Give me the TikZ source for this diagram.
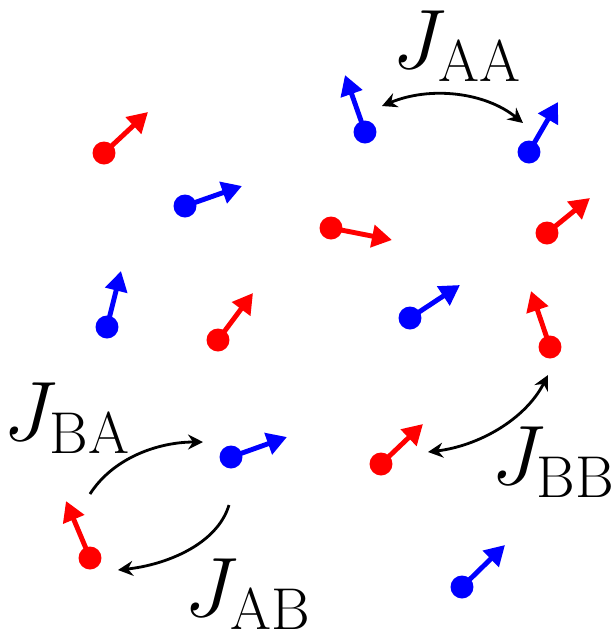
\RequirePackage{fix-cm}
\documentclass[tikz,border=0pt]{standalone}
\usepackage{tikz}
\usepackage{xcolor}
\usetikzlibrary{arrows.meta}
\newcommand{\FJ}{\fontsize{48}{56}\selectfont}

\begin{document}
\begin{tikzpicture}[x=0.02cm,y=-0.02cm]
\tikzstyle{upspin}=[circle,fill=red,inner sep=0pt,minimum size=0.46cm]
\tikzstyle{dnspin}=[circle,fill=blue,inner sep=0pt,minimum size=0.46cm]
\tikzstyle{spinr}=[red,line width=2.8pt,-{Triangle[length=0.4cm,width=0.44cm]}]
\tikzstyle{spinb}=[blue,line width=2.8pt,-{Triangle[length=0.4cm,width=0.44cm]}]
\tikzstyle{coupling}=[black,line width=1.6pt,-{Stealth[length=0.3cm,width=0.3cm,inset=0.1cm]}]
\tikzstyle{coupling2}=[black,line width=1.6pt,{Stealth[length=0.3cm,width=0.3cm,inset=0.1cm]}-{Stealth[length=0.3cm,width=0.3cm,inset=0.1cm]}]
\tikzstyle{texto}=[draw=none,fill=none,black,font=\FJ,inner sep=0pt]

\useasboundingbox (0,0) rectangle (613,637);

% spins
\node[upspin] (r1) at (104,153) {};
\node[dnspin] (b1) at (185,206) {};
\node[dnspin] (b2) at (365,132) {};
\node[dnspin] (b3) at (529,152) {};
\node[upspin] (r2) at (331,228) {};
\node[upspin] (r3) at (547,233) {};
\node[dnspin] (b4) at (107,327) {};
\node[upspin] (r4) at (218,340) {};
\node[dnspin] (b5) at (410,318) {};
\node[upspin] (r5) at (550,347) {};
\node[dnspin] (b6) at (231,457) {};
\node[upspin] (r6) at (90,558)  {};
\node[upspin] (r7) at (381,464) {};
\node[dnspin] (b7) at (462,587) {};

\coordinate (tr1) at (148,112);
\coordinate (tb1) at (242,186);
\coordinate (tb2) at (345,75);
\coordinate (tb3) at (558,102);
\coordinate (tr2) at (392,240);
\coordinate (tr3) at (590,198);
\coordinate (tb4) at (121,271);
\coordinate (tr4) at (253,293);
\coordinate (tb5) at (460,285);
\coordinate (tr5) at (531,291);
\coordinate (tb6) at (287,437);
\coordinate (tr6) at (66,501);
\coordinate (tr7) at (423,424);
\coordinate (tb7) at (505,545);

\draw[spinr] (r1.center) -- (tr1);
\draw[spinb] (b1.center) -- (tb1);
\draw[spinb] (b2.center) -- (tb2);
\draw[spinb] (b3.center) -- (tb3);
\draw[spinr] (r2.center) -- (tr2);
\draw[spinr] (r3.center) -- (tr3);
\draw[spinb] (b4.center) -- (tb4);
\draw[spinr] (r4.center) -- (tr4);
\draw[spinb] (b5.center) -- (tb5);
\draw[spinr] (r5.center) -- (tr5);
\draw[spinb] (b6.center) -- (tb6);
\draw[spinr] (r6.center) -- (tr6);
\draw[spinr] (r7.center) -- (tr7);
\draw[spinb] (b7.center) -- (tb7);

% couplings
\coordinate (aa1) at (382,106);
\coordinate (aa2) at (523,123);
\coordinate (ba1) at (90,494);
\coordinate (ba2) at (203,442);
\coordinate (ab1) at (229,505);
\coordinate (ab2) at (118,570);
\coordinate (bb1) at (548,375);
\coordinate (bb2) at (428,452);

\draw[coupling2] (aa1) .. controls (430,86) and (485,92) .. (aa2);
\draw[coupling] (ba1) .. controls (113,458) and (158,442) .. (ba2);
\draw[coupling] (ab1) .. controls (217,545) and (165,565) .. (ab2);
\draw[coupling2] (bb1) .. controls (525,420) and (478,446) .. (bb2);

\node[texto] (jaa) at (457,46)  {$J_{\mathrm{AA}}$};
\node[texto] (jba) at (67,418)  {$J_{\mathrm{BA}}$};
\node[texto] (jab) at (248,594) {$J_{\mathrm{AB}}$};
\node[texto] (jbb) at (553,462) {$J_{\mathrm{BB}}$};
\end{tikzpicture}
\end{document}
